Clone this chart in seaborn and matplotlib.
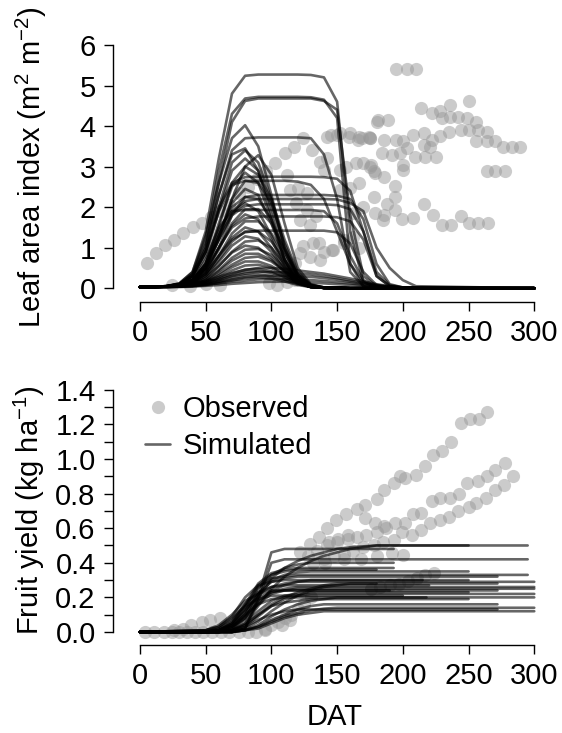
import matplotlib
matplotlib.use('Agg')
import matplotlib.pyplot as plt
from matplotlib.lines import Line2D
from matplotlib.ticker import FixedLocator
import pandas as pd
import seaborn as sns

# ---- observed leaf area index (DAT, LAI)
lai_obs_dat = [5, 12, 19, 26, 33, 40, 47, 54, 61, 68, 75, 82, 89, 96, 103,
               24, 38, 50, 61, 98, 104, 112, 118,
               110, 117, 124, 131, 145, 152, 160, 167, 175, 180,
               112, 137, 142, 140, 152, 157, 164, 170, 176,
               114, 120, 127, 119, 127, 134, 152, 160, 167,
               122, 129, 124, 132, 140, 147, 137, 129,
               155, 162, 167, 122, 118, 146, 155, 136,
               142, 150, 159, 166, 174, 170, 163,
               195, 203, 210,
               214, 222, 228, 230, 236, 236, 242, 250, 249, 256,
               244, 250, 257, 264, 256, 264, 270, 276, 283, 289,
               264, 270, 278,
               235, 228, 222, 216, 208, 200, 195,
               221, 216, 225, 217, 209, 203, 198, 192, 184,
               189, 181, 175, 169, 186,
               200, 200, 186, 178, 175, 179,
               194, 194, 178, 188, 186, 179, 185, 194, 199, 208,
               216, 223, 230, 237, 244, 250, 257, 265]
lai_obs_val = [0.62, 0.86, 1.07, 1.20, 1.36, 1.50, 1.62, 1.75, 1.90, 2.05, 2.34, 2.50, 2.70, 2.90, 3.10,
               0.08, 0.05, 0.10, 0.08, 0.12, 0.08, 0.15, 0.20,
               3.33, 3.49, 3.70, 3.41, 3.78, 3.82, 3.82, 3.74, 3.70, 4.11,
               2.79, 3.12, 3.21, 2.92, 2.92, 3.00, 3.08, 3.08, 3.04,
               2.42, 2.47, 2.34, 2.10, 1.93, 1.77, 2.42, 2.47, 2.59,
               1.68, 1.56, 1.03, 1.11, 0.90, 0.94, 0.70, 0.78,
               1.11, 1.27, 0.99, 0.86, 0.62, 0.95, 1.19, 1.11,
               3.74, 3.78, 3.74, 3.66, 3.74, 2.00, 1.85,
               5.41, 5.41, 5.41,
               4.44, 4.32, 4.36, 4.19, 4.52, 4.23, 4.23, 4.62, 4.19, 4.11,
               3.90, 3.90, 3.90, 3.86, 3.62, 3.62, 3.62, 3.49, 3.49, 3.49,
               2.90, 2.90, 2.90,
               3.86, 3.76, 3.66, 3.82, 3.78, 3.62, 3.66,
               3.49, 3.53, 3.23, 3.23, 3.23, 3.45, 3.33, 3.29, 3.33,
               4.15, 4.15, 3.70, 3.70, 3.66,
               2.92, 3.04, 2.75, 2.90, 3.00, 2.85,
               2.51, 2.26, 2.26, 2.08, 1.81, 1.85, 1.68, 1.93, 1.70, 1.73,
               2.08, 1.81, 1.56, 1.56, 1.77, 1.60, 1.60, 1.60]

# ---- simulated LAI: runs with a long plateau
plat_days = [0, 20, 30, 40, 50, 60, 70, 80, 90, 100, 110, 120, 130, 140, 150, 160, 170, 180, 190, 200, 210, 300]
lai_plateau = [
    [0.03, 0.05, 0.12, 0.40, 1.40, 3.20, 4.80, 5.24, 5.27, 5.27, 5.27, 5.27, 5.26, 5.20, 4.60, 1.40, 0.15, 0.03, 0.01, 0, 0, 0],
    [0.03, 0.05, 0.10, 0.35, 1.20, 2.90, 4.30, 4.68, 4.72, 4.72, 4.72, 4.72, 4.71, 4.65, 4.20, 0.60, 0.05, 0.01, 0, 0, 0, 0],
    [0.03, 0.05, 0.10, 0.30, 1.00, 2.60, 4.10, 4.62, 4.68, 4.68, 4.68, 4.68, 4.68, 4.62, 4.40, 1.80, 0.30, 0.05, 0.01, 0, 0, 0],
    [0.03, 0.05, 0.10, 0.30, 1.00, 2.30, 3.40, 3.70, 3.72, 3.72, 3.72, 3.72, 3.70, 3.30, 2.20, 0.40, 0.05, 0.01, 0, 0, 0, 0],
    [0.03, 0.05, 0.10, 0.30, 0.90, 2.00, 2.60, 2.74, 2.75, 2.75, 2.75, 2.75, 2.75, 2.74, 2.70, 2.40, 1.40, 0.40, 0.08, 0.02, 0, 0],
    [0.03, 0.05, 0.10, 0.30, 0.90, 1.90, 2.55, 2.65, 2.65, 2.65, 2.65, 2.63, 2.55, 2.20, 1.40, 0.60, 0.15, 0.03, 0.01, 0, 0, 0],
    [0.03, 0.04, 0.08, 0.20, 0.60, 1.40, 2.00, 2.25, 2.30, 2.30, 2.30, 2.30, 2.30, 2.30, 2.28, 2.20, 1.70, 0.60, 0.10, 0.02, 0, 0],
    [0.03, 0.04, 0.08, 0.20, 0.60, 1.30, 1.90, 2.15, 2.20, 2.20, 2.20, 2.20, 2.20, 2.20, 2.19, 2.10, 1.90, 1.00, 0.50, 0.20, 0.05, 0],
    [0.03, 0.04, 0.07, 0.18, 0.50, 1.20, 1.80, 2.03, 2.07, 2.07, 2.07, 2.07, 2.07, 2.07, 2.05, 1.95, 1.40, 0.30, 0.05, 0.01, 0, 0],
    [0.03, 0.04, 0.08, 0.22, 0.70, 1.50, 1.90, 1.93, 1.93, 1.93, 1.93, 1.93, 1.93, 1.90, 1.60, 0.80, 0.20, 0.03, 0.01, 0, 0, 0],
    [0.03, 0.04, 0.07, 0.16, 0.45, 1.00, 1.50, 1.72, 1.77, 1.77, 1.77, 1.77, 1.77, 1.77, 1.75, 1.65, 1.20, 0.30, 0.05, 0.01, 0, 0],
    [0.03, 0.04, 0.06, 0.14, 0.35, 0.80, 1.20, 1.38, 1.42, 1.42, 1.42, 1.42, 1.42, 1.42, 1.38, 1.10, 0.40, 0.08, 0.01, 0, 0, 0],
]
# runs that stay low but last long
lai_low = [
    [0.02, 0.03, 0.05, 0.10, 0.18, 0.28, 0.38, 0.45, 0.50, 0.50, 0.48, 0.44, 0.40, 0.36, 0.30, 0.24, 0.17, 0.10, 0.05, 0.02, 0.01, 0],
    [0.02, 0.03, 0.04, 0.08, 0.14, 0.22, 0.30, 0.36, 0.40, 0.40, 0.39, 0.37, 0.34, 0.30, 0.25, 0.19, 0.13, 0.08, 0.04, 0.02, 0.01, 0],
    [0.02, 0.03, 0.04, 0.06, 0.10, 0.16, 0.22, 0.27, 0.30, 0.31, 0.31, 0.30, 0.28, 0.25, 0.21, 0.16, 0.11, 0.07, 0.04, 0.02, 0.01, 0],
    [0.02, 0.03, 0.04, 0.05, 0.08, 0.12, 0.16, 0.19, 0.22, 0.23, 0.23, 0.22, 0.20, 0.18, 0.15, 0.12, 0.08, 0.05, 0.03, 0.01, 0, 0],
    [0.02, 0.03, 0.03, 0.04, 0.06, 0.08, 0.11, 0.13, 0.15, 0.16, 0.16, 0.15, 0.14, 0.12, 0.10, 0.08, 0.06, 0.04, 0.02, 0.01, 0, 0],
]
# runs with an early peak
peak_days = [0, 20, 30, 40, 50, 60, 70, 80, 90, 100, 110, 120, 130, 140, 160, 300]
lai_peak = [
    [0.03, 0.05, 0.12, 0.40, 1.30, 2.60, 3.70, 4.02, 3.50, 2.30, 1.00, 0.30, 0.08, 0.02, 0, 0],
    [0.03, 0.05, 0.10, 0.35, 1.10, 2.30, 3.30, 3.45, 2.90, 1.80, 0.70, 0.15, 0.03, 0.01, 0, 0],
    [0.03, 0.05, 0.10, 0.30, 0.90, 2.00, 3.10, 3.40, 3.10, 2.20, 1.00, 0.30, 0.05, 0.01, 0, 0],
    [0.03, 0.04, 0.08, 0.20, 0.50, 1.20, 2.20, 3.00, 3.28, 2.80, 1.60, 0.50, 0.10, 0.02, 0, 0],
    [0.03, 0.04, 0.08, 0.25, 0.80, 1.90, 2.90, 3.20, 2.90, 2.00, 0.90, 0.25, 0.05, 0.01, 0, 0],
    [0.03, 0.04, 0.08, 0.20, 0.60, 1.50, 2.60, 3.00, 2.80, 2.20, 1.20, 0.40, 0.08, 0.02, 0, 0],
    [0.03, 0.04, 0.07, 0.20, 0.60, 1.60, 2.50, 2.85, 2.60, 1.70, 0.70, 0.15, 0.03, 0.01, 0, 0],
    [0.03, 0.04, 0.07, 0.18, 0.50, 1.30, 2.20, 2.65, 2.60, 2.10, 1.10, 0.35, 0.07, 0.01, 0, 0],
    [0.03, 0.04, 0.07, 0.18, 0.50, 1.30, 2.10, 2.45, 2.30, 1.60, 0.70, 0.20, 0.04, 0.01, 0, 0],
    [0.03, 0.04, 0.06, 0.15, 0.40, 1.00, 1.80, 2.25, 2.20, 1.70, 0.90, 0.30, 0.06, 0.01, 0, 0],
    [0.03, 0.04, 0.07, 0.20, 0.55, 1.20, 1.85, 2.10, 1.90, 1.30, 0.60, 0.15, 0.03, 0.01, 0, 0],
    [0.03, 0.04, 0.06, 0.15, 0.40, 0.95, 1.60, 1.95, 1.95, 1.60, 0.95, 0.35, 0.08, 0.02, 0, 0],
    [0.03, 0.04, 0.06, 0.16, 0.45, 1.00, 1.55, 1.82, 1.70, 1.20, 0.55, 0.15, 0.03, 0.01, 0, 0],
    [0.03, 0.04, 0.06, 0.14, 0.35, 0.80, 1.35, 1.65, 1.65, 1.35, 0.80, 0.30, 0.07, 0.01, 0, 0],
    [0.03, 0.04, 0.06, 0.14, 0.35, 0.80, 1.25, 1.50, 1.40, 1.00, 0.50, 0.15, 0.03, 0.01, 0, 0],
    [0.03, 0.04, 0.06, 0.12, 0.30, 0.70, 1.15, 1.40, 1.40, 1.15, 0.70, 0.25, 0.05, 0.01, 0, 0],
    [0.03, 0.04, 0.05, 0.12, 0.30, 0.65, 1.05, 1.28, 1.22, 0.90, 0.45, 0.14, 0.03, 0.01, 0, 0],
    [0.03, 0.04, 0.05, 0.10, 0.25, 0.55, 0.90, 1.15, 1.18, 1.00, 0.60, 0.22, 0.05, 0.01, 0, 0],
    [0.03, 0.04, 0.05, 0.10, 0.25, 0.55, 0.88, 1.05, 1.00, 0.75, 0.40, 0.12, 0.03, 0.01, 0, 0],
    [0.03, 0.04, 0.05, 0.09, 0.20, 0.45, 0.75, 0.95, 0.97, 0.82, 0.50, 0.20, 0.05, 0.01, 0, 0],
    [0.03, 0.04, 0.05, 0.09, 0.20, 0.42, 0.68, 0.85, 0.85, 0.70, 0.42, 0.15, 0.04, 0.01, 0, 0],
    [0.03, 0.04, 0.05, 0.08, 0.17, 0.36, 0.58, 0.75, 0.78, 0.66, 0.42, 0.18, 0.05, 0.01, 0, 0],
    [0.03, 0.04, 0.05, 0.08, 0.16, 0.32, 0.52, 0.66, 0.66, 0.55, 0.35, 0.14, 0.04, 0.01, 0, 0],
    [0.03, 0.04, 0.05, 0.07, 0.14, 0.27, 0.44, 0.56, 0.58, 0.50, 0.33, 0.14, 0.04, 0.01, 0, 0],
    [0.03, 0.04, 0.05, 0.07, 0.12, 0.23, 0.36, 0.46, 0.48, 0.42, 0.28, 0.12, 0.04, 0.01, 0, 0],
    [0.03, 0.04, 0.05, 0.06, 0.11, 0.20, 0.31, 0.40, 0.42, 0.38, 0.27, 0.12, 0.04, 0.01, 0, 0],
    [0.03, 0.04, 0.05, 0.06, 0.09, 0.16, 0.25, 0.32, 0.34, 0.30, 0.21, 0.10, 0.03, 0.01, 0, 0],
    [0.03, 0.04, 0.05, 0.06, 0.08, 0.13, 0.19, 0.25, 0.27, 0.24, 0.17, 0.08, 0.03, 0.01, 0, 0],
]

# ---- observed fruit yield (DAT, kg/ha)
fy_obs_dat = [4, 11, 18, 24, 30, 36, 42, 48, 55, 62, 68, 75, 82, 88, 95,
              26, 33, 39, 47, 53, 61,
              95, 100, 105, 110, 115, 120, 125, 130,
              108, 114, 122, 129, 136, 142, 149, 157, 165, 171, 180, 186, 193, 198,
              202, 210, 217, 223, 230, 237, 244, 251, 258, 264,
              128, 135, 142, 150, 158, 165, 172, 180, 186, 194, 202, 208, 214, 222,
              228, 236, 243, 249, 257, 264, 270, 278,
              132, 140, 148, 155, 162, 170, 178, 185, 193, 199, 207, 214, 221, 228,
              235, 242, 250, 256, 263, 270, 277, 284,
              176, 183, 190, 197, 204, 211, 217, 224,
              141, 155, 168, 180, 192, 200,
              144, 151, 158, 171, 179, 187]
fy_obs_val = [0, 0, 0, 0, 0, 0, 0, 0, 0, 0, 0, 0, 0, 0, 0.01,
              0.01, 0.02, 0.04, 0.055, 0.067, 0.08,
              0.02, 0.04, 0.06, 0.08, 0.10, 0.13, 0.16, 0.20,
              0.04, 0.07, 0.46, 0.51, 0.55, 0.60, 0.65, 0.68, 0.71, 0.735, 0.77, 0.82, 0.86, 0.90,
              0.89, 0.91, 0.96, 1.025, 1.045, 1.10, 1.21, 1.23, 1.23, 1.27,
              0.44, 0.47, 0.50, 0.52, 0.54, 0.55, 0.56, 0.58, 0.61, 0.63, 0.63, 0.68, 0.69, 0.755,
              0.775, 0.775, 0.80, 0.86, 0.87, 0.90, 0.935, 0.975,
              0.40, 0.42, 0.44, 0.45, 0.47, 0.49, 0.50, 0.52, 0.53, 0.58, 0.56, 0.59, 0.63, 0.65,
              0.665, 0.70, 0.725, 0.745, 0.775, 0.82, 0.85, 0.90,
              0.25, 0.26, 0.27, 0.28, 0.295, 0.31, 0.33, 0.34,
              0.40, 0.42, 0.42, 0.44, 0.455, 0.445,
              0.52, 0.54, 0.56, 0.66, 0.63, 0.60]

# ---- simulated fruit yield: values on a day grid, then flat until the run ends
fy_days = [0, 50, 60, 70, 80, 90, 100, 110, 120, 130, 140, 150, 160, 180]
fy_sim = [
    [0, 0, 0, 0, 0.02, 0.20, 0.46, 0.48, 0.48, 0.48, 0.48, 0.48, 0.48, 0.48],
    [0, 0, 0, 0, 0.02, 0.18, 0.40, 0.42, 0.42, 0.42, 0.42, 0.42, 0.42, 0.42],
    [0, 0, 0, 0.01, 0.05, 0.15, 0.25, 0.32, 0.37, 0.41, 0.44, 0.46, 0.48, 0.50],
    [0, 0, 0.01, 0.03, 0.10, 0.22, 0.31, 0.37, 0.41, 0.44, 0.46, 0.48, 0.49, 0.50],
    [0, 0, 0.01, 0.04, 0.12, 0.25, 0.33, 0.37, 0.39, 0.40, 0.40, 0.40, 0.40, 0.40],
    [0, 0, 0.02, 0.06, 0.16, 0.28, 0.34, 0.36, 0.37, 0.37, 0.37, 0.37, 0.37, 0.37],
    [0, 0, 0, 0.02, 0.08, 0.20, 0.30, 0.33, 0.345, 0.35, 0.35, 0.35, 0.35, 0.35],
    [0, 0, 0.01, 0.05, 0.14, 0.26, 0.31, 0.32, 0.33, 0.33, 0.33, 0.33, 0.33, 0.33],
    [0, 0, 0, 0.02, 0.10, 0.22, 0.29, 0.31, 0.32, 0.32, 0.32, 0.32, 0.32, 0.32],
    [0, 0.01, 0.03, 0.09, 0.20, 0.27, 0.29, 0.30, 0.30, 0.30, 0.30, 0.30, 0.30, 0.30],
    [0, 0, 0.01, 0.04, 0.12, 0.22, 0.26, 0.28, 0.29, 0.29, 0.29, 0.29, 0.29, 0.29],
    [0, 0, 0, 0, 0.02, 0.06, 0.12, 0.17, 0.21, 0.24, 0.26, 0.27, 0.28, 0.28],
    [0, 0, 0.02, 0.07, 0.16, 0.23, 0.26, 0.27, 0.27, 0.27, 0.27, 0.27, 0.27, 0.27],
    [0, 0, 0.01, 0.03, 0.09, 0.18, 0.23, 0.25, 0.26, 0.26, 0.26, 0.26, 0.26, 0.26],
    [0, 0, 0, 0.02, 0.07, 0.16, 0.22, 0.24, 0.25, 0.25, 0.25, 0.25, 0.25, 0.25],
    [0, 0, 0.01, 0.05, 0.13, 0.20, 0.23, 0.24, 0.24, 0.24, 0.24, 0.24, 0.24, 0.24],
    [0, 0, 0, 0.01, 0.05, 0.12, 0.18, 0.21, 0.22, 0.23, 0.23, 0.23, 0.23, 0.23],
    [0, 0, 0, 0, 0.03, 0.09, 0.15, 0.19, 0.21, 0.22, 0.22, 0.22, 0.22, 0.22],
    [0, 0.01, 0.03, 0.08, 0.15, 0.19, 0.21, 0.21, 0.21, 0.21, 0.21, 0.21, 0.21, 0.21],
    [0, 0, 0, 0, 0.01, 0.04, 0.09, 0.13, 0.16, 0.18, 0.19, 0.20, 0.20, 0.20],
    [0, 0, 0.01, 0.04, 0.10, 0.16, 0.19, 0.20, 0.20, 0.20, 0.20, 0.20, 0.20, 0.20],
    [0, 0, 0, 0.01, 0.04, 0.10, 0.15, 0.17, 0.18, 0.19, 0.19, 0.19, 0.19, 0.19],
    [0, 0, 0, 0, 0.01, 0.03, 0.07, 0.10, 0.13, 0.15, 0.16, 0.16, 0.16, 0.16],
    [0, 0, 0, 0, 0.01, 0.03, 0.06, 0.09, 0.11, 0.125, 0.135, 0.14, 0.14, 0.14],
    [0, 0, 0, 0, 0.01, 0.02, 0.05, 0.08, 0.10, 0.11, 0.12, 0.12, 0.12, 0.12],
    [0, 0, 0, 0.01, 0.03, 0.07, 0.10, 0.12, 0.13, 0.13, 0.13, 0.13, 0.13, 0.13],
    [0, 0.01, 0.04, 0.10, 0.18, 0.22, 0.24, 0.24, 0.24, 0.24, 0.24, 0.24, 0.24, 0.24],
    [0, 0, 0.01, 0.03, 0.08, 0.17, 0.24, 0.27, 0.29, 0.30, 0.30, 0.30, 0.30, 0.30],
    [0, 0, 0.01, 0.05, 0.15, 0.27, 0.33, 0.35, 0.36, 0.36, 0.36, 0.36, 0.36, 0.36],
    [0, 0, 0, 0.01, 0.04, 0.10, 0.16, 0.20, 0.23, 0.25, 0.27, 0.28, 0.28, 0.28],
]
fy_end_dat = [193, 295, 295, 250, 193, 193, 250, 295, 272, 250, 300, 272, 220, 300, 300,
              272, 250, 300, 200, 300, 218, 250, 272, 300, 300, 272, 190, 215, 180, 180]


def to_long(days, rows, tag, ends=None):
    recs = []
    for i, row in enumerate(rows):
        d = list(days)
        v = list(row)
        if ends is not None:
            d.append(ends[i])
            v.append(row[-1])
        for x, y in zip(d, v):
            recs.append((f'{tag}{i}', x, y))
    return pd.DataFrame(recs, columns=['run', 'dat', 'value'])


df_lai = pd.concat([to_long(plat_days, lai_plateau, 'p'),
                    to_long(plat_days, lai_low, 'l'),
                    to_long(peak_days, lai_peak, 'k')], ignore_index=True)
df_fy = to_long(fy_days, fy_sim, 'y', fy_end_dat)

sns.set_style('ticks')
plt.rcParams['font.family'] = ['Liberation Sans', 'DejaVu Sans']
plt.rcParams['mathtext.fontset'] = 'custom'
plt.rcParams['mathtext.rm'] = 'Liberation Sans'
plt.rcParams['mathtext.it'] = 'Liberation Sans'
plt.rcParams['mathtext.default'] = 'regular'
for key in ('text.color', 'axes.labelcolor', 'xtick.color', 'ytick.color'):
    plt.rcParams[key] = 'black'

FS = 21
obs_kw = dict(color='#999999', alpha=0.5, s=90, linewidth=0)
sim_kw = dict(color='black', alpha=0.6, linewidth=1.9)

fig = plt.figure(figsize=(5.62, 7.33), dpi=100)
ax1 = fig.add_axes([0.2011, 0.5885, 0.7776, 0.3557])
ax2 = fig.add_axes([0.2011, 0.1201, 0.7776, 0.3600])

# top: leaf area index
sns.scatterplot(x=lai_obs_dat, y=lai_obs_val, ax=ax1, **obs_kw)
sns.lineplot(data=df_lai, x='dat', y='value', units='run', estimator=None,
             ax=ax1, legend=False, **sim_kw)
ax1.set_xlim(-20.5, 312)
ax1.set_ylim(-0.33, 6.1)
ax1.set_yticks(range(0, 7))
ax1.set_xticks(range(0, 301, 50))
ax1.spines['left'].set_bounds(0, 6)
ax1.spines['bottom'].set_bounds(0, 300)
ax1.set_xlabel('')
ax1.set_ylabel(r'Leaf area index (m$^2$ m$^{-2}$)', fontsize=FS)
ax1.yaxis.set_label_coords(-0.146, 0.516)

# bottom: fruit yield
sns.scatterplot(x=fy_obs_dat, y=fy_obs_val, ax=ax2, **obs_kw)
sns.lineplot(data=df_fy, x='dat', y='value', units='run', estimator=None,
             ax=ax2, legend=False, **sim_kw)
ax2.set_xlim(-20.5, 312)
ax2.set_ylim(-0.075, 1.45)
ax2.yaxis.set_major_locator(FixedLocator([0, 0.2, 0.4, 0.6, 0.8, 1.0, 1.2, 1.4]))
ax2.yaxis.set_minor_locator(FixedLocator([0.1, 0.3, 0.5, 0.7, 0.9, 1.1, 1.3]))
ax2.set_yticklabels(['0.0', '0.2', '0.4', '0.6', '0.8', '1.0', '1.2', '1.4'])
ax2.set_xticks(range(0, 301, 50))
ax2.spines['left'].set_bounds(0, 1.4)
ax2.spines['bottom'].set_bounds(0, 300)
ax2.set_xlabel('DAT', fontsize=FS)
ax2.xaxis.set_label_coords(0.508, -0.22)
ax2.set_ylabel(r'Fruit yield (kg ha$^{-1}$)', fontsize=FS)
ax2.yaxis.set_label_coords(-0.151, 0.512)

handles = [Line2D([], [], marker='o', ls='none', color='#999999', alpha=0.5,
                  markersize=9.5, markeredgewidth=0),
           Line2D([], [], color='black', alpha=0.6, linewidth=1.9)]
ax2.legend(handles, ['Observed', 'Simulated'], loc='upper left',
           bbox_to_anchor=(0.0732, 0.948), frameon=False, fontsize=FS,
           borderpad=0, borderaxespad=0, handlelength=0.86,
           handletextpad=0.44, labelspacing=0.32)

for ax in (ax1, ax2):
    sns.despine(ax=ax)
    for side in ('left', 'bottom'):
        ax.spines[side].set_linewidth(1.0)
        ax.spines[side].set_color('black')
    ax.tick_params(which='both', direction='out', length=6.5, width=1.0,
                   color='black', labelcolor='black', labelsize=FS, pad=6)

fig.savefig('out.png', dpi=100)
